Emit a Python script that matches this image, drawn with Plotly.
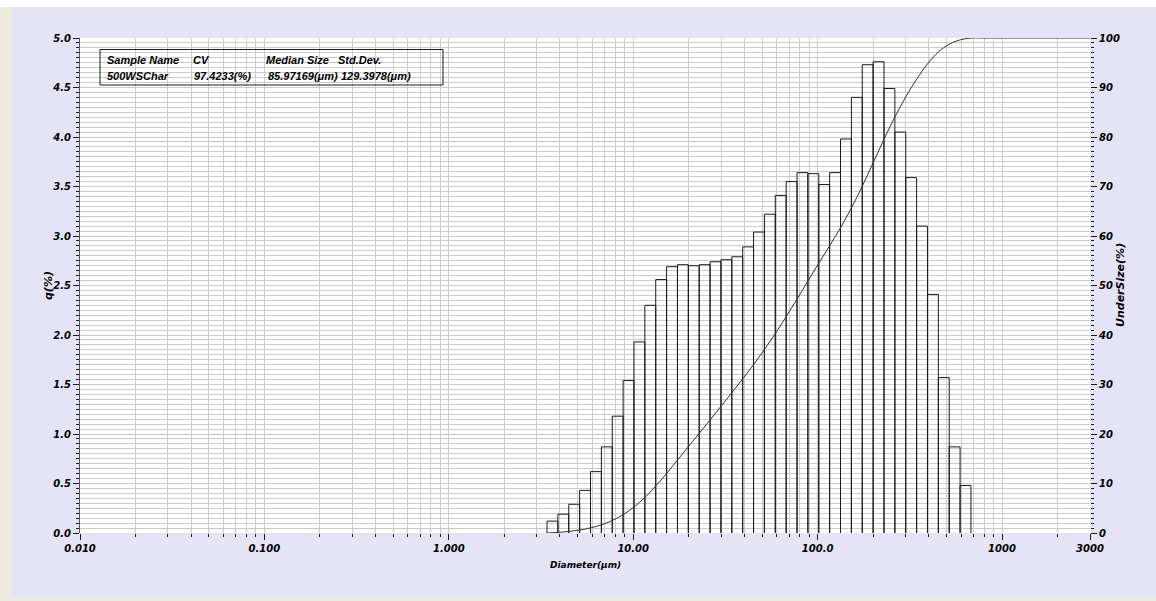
import math
import plotly.graph_objects as go

# Channel boundaries (um) spanning the measured distribution
size_um = [3.409, 3.905, 4.472, 5.122, 5.867, 6.720, 7.697, 8.816, 10.097, 11.565,
           13.246, 15.172, 17.377, 19.904, 22.797, 26.111, 29.907, 34.255, 39.234, 44.938,
           51.471, 58.953, 67.523, 77.339, 88.583, 101.46, 116.21, 133.10, 152.45, 174.62,
           200.00, 229.07, 262.38, 300.52, 344.21, 394.24, 451.56, 517.20, 592.39, 678.50]
# Remaining channels up to the top of the range
upper_size_um = [777.14, 890.12, 1019.52, 1167.72, 1337.48, 1531.90, 1754.62,
                 2009.69, 2301.84, 2636.46, 3000.0]

# Frequency q(%) for each channel between consecutive boundaries
q_pct = [0.12, 0.19, 0.29, 0.43, 0.62, 0.87, 1.18, 1.54, 1.93, 2.30,
         2.56, 2.69, 2.71, 2.70, 2.71, 2.74, 2.76, 2.79, 2.89, 3.04,
         3.22, 3.41, 3.55, 3.64, 3.63, 3.52, 3.64, 3.98, 4.40, 4.73,
         4.76, 4.49, 4.05, 3.59, 3.10, 2.41, 1.57, 0.87, 0.48]

# Cumulative undersize (%) at each boundary
undersize_pct = [0.00, 0.12, 0.31, 0.60, 1.03, 1.65, 2.52, 3.70, 5.24, 7.17,
                 9.47, 12.03, 14.72, 17.43, 20.13, 22.84, 25.58, 28.34, 31.13, 34.02,
                 37.06, 40.28, 43.69, 47.24, 50.88, 54.51, 58.03, 61.67, 65.65, 70.05,
                 74.78, 79.54, 84.03, 88.08, 91.67, 94.77, 97.18, 98.75, 99.62, 100.00]
upper_undersize_pct = [100.0, 100.0, 100.0, 100.0, 100.0, 100.0, 100.0,
                       100.0, 100.0, 100.0, 100.0]

# Axis tick labels
x_tick_vals = [0.01, 0.1, 1, 10, 100, 1000, 3000]
x_tick_text = ["0.010", "0.100", "1.000", "10.00", "100.0", "1000", "3000"]

# Summary table
table_header = ["Sample Name", "CV", "Median Size", "Std.Dev."]
table_row = ["500WSChar", "97.4233(%)", "85.97169(μm)", "129.3978(μm)"]

W, H = 1156, 601
L, R, T, B = 80, 66, 38, 68
PW, PH = W - L - R, H - T - B


def px(xp):
    return (xp - L) / PW


def py(yp):
    return (H - B - yp) / PH


FONT = "DejaVu Sans"
tick_font = dict(family=FONT, size=10, color="#000", weight="bold", style="italic")
GRID = "#cbcbcb"
INK = "#1a1a1a"

# open-bottom outline of each histogram bar
bx, by = [], []
for lo, hi, q in zip(size_um[:-1], size_um[1:], q_pct):
    bx += [lo, lo, hi, hi, None]
    by += [0, q, q, 0, None]

fig = go.Figure()
fig.add_trace(go.Scatter(x=bx, y=by, mode="lines", line=dict(color=INK, width=1),
                         hoverinfo="skip", showlegend=False))
fig.add_trace(go.Scatter(x=size_um + upper_size_um, y=undersize_pct + upper_undersize_pct,
                         mode="lines", line=dict(color="#333", width=1, shape="spline"),
                         yaxis="y2", showlegend=False))

minor_x = [m * 10 ** e for e in range(-2, 4) for m in range(2, 10) if m * 10 ** e < 3000]

fig.update_layout(
    width=W, height=H,
    margin=dict(l=L, r=R, t=T, b=B, pad=0),
    paper_bgcolor="#E4E4F6",
    plot_bgcolor="#ffffff",
    showlegend=False,
    xaxis=dict(
        type="log", range=[-2, math.log10(3000)],
        tickmode="array", tickvals=x_tick_vals, ticktext=x_tick_text,
        ticks="outside", ticklen=6, tickcolor=INK, tickwidth=1,
        showgrid=True, gridcolor=GRID, gridwidth=1,
        minor=dict(tickvals=minor_x, ticks="outside", ticklen=3, tickcolor=INK,
                   showgrid=True, gridcolor=GRID, gridwidth=1),
        showline=False, zeroline=False, tickfont=tick_font,
    ),
    yaxis=dict(
        range=[0, 5], tick0=0, dtick=0.5, tickformat=".1f",
        ticks="outside", ticklen=6, tickcolor=INK, tickwidth=1,
        showgrid=True, gridcolor=GRID, gridwidth=1,
        minor=dict(dtick=0.05, ticks="outside", ticklen=3, tickcolor=INK,
                   showgrid=True, gridcolor=GRID, gridwidth=1),
        showline=True, linecolor="#555", linewidth=1,
        zeroline=False, tickfont=tick_font,
    ),
    yaxis2=dict(
        overlaying="y", side="right", range=[0, 100], tick0=0, dtick=10,
        ticks="outside", ticklen=6, tickcolor=INK, tickwidth=1,
        minor=dict(dtick=1, ticks="outside", ticklen=3, tickcolor=INK),
        showgrid=False, zeroline=False, showline=False, tickfont=tick_font,
    ),
)

# window frame: beige strip at left and bottom, white band along the top
fig.add_shape(type="rect", xref="paper", yref="paper", layer="below",
              x0=px(0), x1=px(12), y0=py(H), y1=py(0),
              fillcolor="#EDEBDF", line=dict(width=0))
fig.add_shape(type="rect", xref="paper", yref="paper", layer="below",
              x0=px(0), x1=px(W), y0=py(H), y1=py(597),
              fillcolor="#EDEBDF", line=dict(width=0))
fig.add_shape(type="rect", xref="paper", yref="paper", layer="below",
              x0=px(0), x1=px(W), y0=py(7), y1=py(0),
              fillcolor="#ffffff", line=dict(width=0))

# summary box
fig.add_shape(type="rect", xref="paper", yref="paper",
              x0=px(100), x1=px(443), y0=py(85), y1=py(49.5),
              line=dict(color=INK, width=1), fillcolor="rgba(0,0,0,0)")

ann_font = dict(family="Liberation Sans", size=11, color="#000",
                weight="bold", style="italic")
header_x = [105, 190.5, 264, 335.5]
for txt, xp in zip(table_header, header_x):
    fig.add_annotation(x=px(xp), y=py(60), xref="paper", yref="paper", text=txt,
                       showarrow=False, xanchor="left", yanchor="middle", font=ann_font)
row_pos = [(105, "left"), (253, "right"), (265.5, "left"), (339, "left")]
for txt, (xp, anc) in zip(table_row, row_pos):
    fig.add_annotation(x=px(xp), y=py(76), xref="paper", yref="paper", text=txt,
                       showarrow=False, xanchor=anc, yanchor="middle", font=ann_font)

# axis titles
title_font = dict(family=FONT, size=11, color="#000", weight="bold", style="italic")
fig.add_annotation(x=px(40), y=0.5, xref="paper", yref="paper", text="q(%)",
                   textangle=-90, showarrow=False, font=title_font)
fig.add_annotation(x=px(1129), y=0.5, xref="paper", yref="paper", text="UnderSize(%)",
                   textangle=-90, showarrow=False, font=title_font)
fig.add_annotation(x=0.5, y=py(572), xref="paper", yref="paper", text="Diameter(μm)",
                   showarrow=False, font=dict(family=FONT, size=9, color="#000",
                                              weight="bold", style="italic"))

fig.write_html("out.html")
